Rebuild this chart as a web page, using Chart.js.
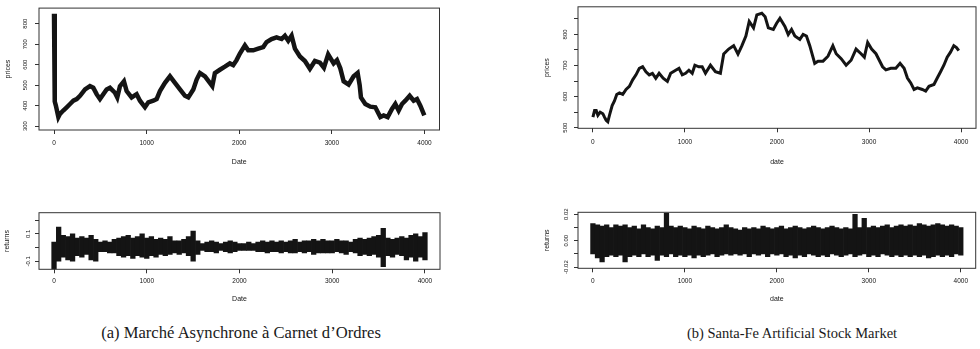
<!DOCTYPE html>
<html><head><meta charset="utf-8">
<script src="https://cdn.jsdelivr.net/npm/chart.js@4.4.0/dist/chart.umd.min.js"></script>
<style>
html,body{margin:0;padding:0;background:#fff;}
body{width:980px;height:349px;position:relative;overflow:hidden;}
canvas{position:absolute;}
.cap{position:absolute;font-family:"Liberation Serif","Times New Roman",serif;color:#1a1a1a;white-space:nowrap;transform:translateX(-50%);line-height:1;}
</style></head><body>
<canvas id="c1" width="445" height="166" style="left:0;top:0"></canvas>
<canvas id="c2" width="445" height="96" style="left:0;top:207px"></canvas>
<canvas id="c3" width="440" height="166" style="left:540px;top:0"></canvas>
<canvas id="c4" width="440" height="96" style="left:540px;top:207px"></canvas>
<div class="cap" style="left:241px;top:325px;font-size:16.6px">(a) Marché Asynchrone à Carnet d’Ordres</div>
<div class="cap" style="left:792px;top:326px;font-size:14.5px">(b) Santa-Fe Artificial Stock Market</div>
<script>
// ---- data ----
const xTicks = [0, 1000, 2000, 3000, 4000];
const xTickLabels = ['0', '1000', '2000', '3000', '4000'];

// (a) price series
const timeA = [0, 8, 20, 47, 65, 100, 137, 173, 209, 245, 281, 335, 388, 424, 460, 496, 532, 568, 604, 658, 683, 712, 755, 784, 838, 892, 928, 982, 1018, 1072, 1108, 1144, 1198, 1252, 1306, 1360, 1414, 1450, 1504, 1540, 1576, 1630, 1683, 1709, 1737, 1791, 1845, 1899, 1935, 1971, 2007, 2061, 2097, 2151, 2205, 2259, 2295, 2349, 2403, 2457, 2493, 2529, 2565, 2601, 2655, 2709, 2763, 2817, 2871, 2914, 2960, 3019, 3055, 3091, 3127, 3181, 3235, 3278, 3300, 3314, 3361, 3415, 3469, 3523, 3559, 3602, 3649, 3685, 3721, 3757, 3793, 3840, 3883, 3919, 3955, 3998];
const priceA = [848, 420, 400, 344, 360, 376, 392, 408, 424, 432, 448, 479, 495, 487, 456, 432, 456, 479, 487, 463, 440, 495, 519, 471, 440, 456, 424, 392, 416, 424, 432, 471, 511, 543, 511, 479, 448, 440, 479, 527, 559, 543, 511, 495, 559, 575, 590, 606, 598, 622, 654, 694, 670, 670, 678, 686, 710, 725, 733, 725, 741, 717, 741, 678, 640, 618, 580, 618, 610, 585, 650, 606, 622, 582, 519, 503, 543, 559, 500, 440, 408, 395, 392, 344, 352, 344, 384, 408, 376, 408, 424, 448, 424, 432, 400, 352];
const yTicksA = [300, 400, 500, 600, 700, 800];
const yLabelsA = ['300', '400', '500', '600', '700', '800'];

// (a) returns envelope (every 50 steps)
const retTimeA = [0,50,100,150,200,250,300,350,400,450,500,550,600,650,700,750,800,850,900,950,1000,1050,1100,1150,1200,1250,1300,1350,1400,1450,1500,1550,1600,1650,1700,1750,1800,1850,1900,1950,2000,2050,2100,2150,2200,2250,2300,2350,2400,2450,2500,2550,2600,2650,2700,2750,2800,2850,2900,2950,3000,3050,3100,3150,3200,3250,3300,3350,3400,3450,3500,3550,3600,3650,3700,3750,3800,3850,3900,3950,4000];
const retHighA = [0.04,0.15,0.09,0.08,0.10,0.07,0.08,0.07,0.09,0.06,0.04,0.05,0.04,0.06,0.07,0.08,0.09,0.07,0.08,0.10,0.07,0.08,0.06,0.07,0.06,0.08,0.05,0.05,0.06,0.08,0.12,0.05,0.03,0.04,0.05,0.04,0.03,0.04,0.05,0.04,0.03,0.03,0.04,0.03,0.04,0.05,0.04,0.05,0.04,0.05,0.04,0.05,0.06,0.04,0.05,0.05,0.06,0.05,0.06,0.05,0.05,0.06,0.05,0.05,0.04,0.06,0.07,0.06,0.07,0.08,0.09,0.14,0.07,0.06,0.07,0.08,0.07,0.09,0.10,0.08,0.11];
const retLowA = [-0.16,-0.10,-0.07,-0.09,-0.10,-0.06,-0.07,-0.05,-0.09,-0.10,-0.03,-0.03,-0.04,-0.04,-0.06,-0.07,-0.06,-0.08,-0.06,-0.07,-0.08,-0.06,-0.07,-0.05,-0.06,-0.05,-0.04,-0.05,-0.04,-0.06,-0.10,-0.05,-0.02,-0.03,-0.03,-0.04,-0.02,-0.03,-0.04,-0.03,-0.02,-0.02,-0.02,-0.02,-0.03,-0.03,-0.04,-0.03,-0.03,-0.04,-0.03,-0.04,-0.04,-0.03,-0.04,-0.03,-0.05,-0.04,-0.04,-0.04,-0.04,-0.03,-0.04,-0.05,-0.03,-0.04,-0.06,-0.05,-0.06,-0.05,-0.07,-0.14,-0.06,-0.07,-0.05,-0.06,-0.09,-0.07,-0.10,-0.07,-0.09];
const yTicksA2 = [-0.1, 0, 0.1, 0.2];
const yLabelsA2 = ['-0.1', '', '0.1', ''];

// (b) price series
const timeB = [0,18,36,54,79,108,126,144,162,180,209,234,259,288,324,360,396,432,468,504,540,576,612,647,683,719,763,809,845,899,935,971,1007,1043,1079,1108,1151,1187,1223,1277,1331,1385,1421,1475,1529,1576,1619,1662,1698,1745,1781,1835,1871,1906,1960,1996,2032,2086,2122,2158,2194,2248,2284,2320,2356,2410,2446,2500,2554,2607,2643,2697,2751,2805,2859,2913,2949,2985,3028,3075,3111,3147,3183,3237,3291,3337,3381,3417,3453,3489,3525,3579,3615,3651,3705,3741,3777,3813,3849,3885,3921,3950,3975];
const priceB = [534,555,555,540,550,545,534,524,519,540,571,586,607,612,607,623,633,654,670,691,696,680,670,675,659,675,659,649,675,685,691,670,675,685,675,701,696,696,675,701,680,675,737,753,764,737,764,795,842,821,863,868,857,821,816,836,852,826,800,816,795,784,800,795,764,707,714,714,730,764,738,722,701,717,753,738,727,774,753,738,717,696,686,691,691,707,691,660,644,623,628,623,618,633,639,660,680,701,727,743,764,758,748];
const yTicksB = [500, 550, 600, 650, 700, 750, 800, 850];
const yLabelsB = ['500', '', '600', '', '700', '', '800', ''];

// (b) returns envelope (every 50 steps)
const retTimeB = retTimeA;
const retHighB = [0.013,0.012,0.011,0.012,0.010,0.012,0.011,0.012,0.010,0.011,0.009,0.012,0.010,0.009,0.011,0.010,0.021,0.011,0.010,0.011,0.010,0.009,0.011,0.010,0.009,0.011,0.010,0.009,0.010,0.012,0.010,0.009,0.008,0.010,0.009,0.010,0.009,0.011,0.010,0.009,0.010,0.011,0.009,0.010,0.011,0.010,0.009,0.010,0.011,0.010,0.009,0.010,0.011,0.010,0.009,0.010,0.009,0.020,0.010,0.017,0.010,0.011,0.010,0.011,0.012,0.010,0.011,0.012,0.011,0.012,0.011,0.013,0.012,0.011,0.012,0.013,0.012,0.011,0.012,0.011,0.010];
const retLowB = [-0.010,-0.013,-0.016,-0.012,-0.011,-0.012,-0.011,-0.016,-0.012,-0.011,-0.012,-0.010,-0.012,-0.011,-0.015,-0.011,-0.012,-0.010,-0.012,-0.011,-0.012,-0.011,-0.013,-0.011,-0.012,-0.011,-0.010,-0.012,-0.011,-0.010,-0.011,-0.010,-0.011,-0.010,-0.012,-0.010,-0.011,-0.010,-0.012,-0.010,-0.011,-0.010,-0.012,-0.011,-0.013,-0.011,-0.012,-0.010,-0.011,-0.012,-0.011,-0.012,-0.010,-0.011,-0.012,-0.011,-0.010,-0.012,-0.011,-0.010,-0.012,-0.011,-0.012,-0.010,-0.011,-0.012,-0.011,-0.012,-0.011,-0.012,-0.011,-0.012,-0.011,-0.013,-0.012,-0.011,-0.012,-0.011,-0.012,-0.010,-0.011];
const yTicksB2 = [-0.02, -0.01, 0, 0.01, 0.02];
const yLabelsB2 = ['-0.02', '', '0.00', '', '0.02'];

// ---- drawing ----
const INK = '#141414';
const boxPlugin = {
  id: 'box',
  afterDraw(chart) {
    const {ctx, chartArea: a} = chart;
    ctx.save();
    ctx.strokeStyle = '#333';
    ctx.lineWidth = 1;
    ctx.strokeRect(a.left, a.top, a.right - a.left, a.bottom - a.top);
    ctx.restore();
  }
};

function makeChart(id, p) {
  const isBar = p.kind === 'bar';
  const data = isBar
    ? p.t.map((t, i) => ({x: t, y: [p.lo[i], p.hi[i]]}))
    : p.t.map((t, i) => ({x: t, y: p.v[i]}));
  const ds = isBar
    ? {data, backgroundColor: INK, borderWidth: 0, barPercentage: 1, categoryPercentage: 1, borderSkipped: false}
    : {data, borderColor: INK, borderWidth: p.lw, pointRadius: 0, tension: 0, fill: false, borderJoinStyle: 'miter'};
  return new Chart(document.getElementById(id), {
    type: isBar ? 'bar' : 'line',
    data: {datasets: [ds]},
    options: {
      responsive: false, animation: false, devicePixelRatio: 1,
      layout: {padding: p.pad},
      plugins: {legend: {display: false}, tooltip: {enabled: false}},
      scales: {
        x: {
          type: 'linear', min: -162, max: 4162, offset: false,
          afterBuildTicks: s => { s.ticks = xTicks.map(v => ({value: v})); },
          afterFit: s => { s.height = p.xH; },
          grid: {drawOnChartArea: false, drawTicks: true, tickLength: 4, tickColor: '#333', offset: false},
          border: {display: false},
          ticks: {autoSkip: false, maxRotation: 0, padding: p.xPad, color: INK,
            font: {family: 'Liberation Sans', size: 6.5},
            callback: (v, i) => xTickLabels[i]},
          title: {display: true, text: p.xTitle, color: INK, padding: 0,
            font: {family: 'Liberation Sans', size: 7}}
        },
        y: {
          type: 'linear', min: p.yMin, max: p.yMax,
          afterBuildTicks: s => { s.ticks = p.yTicks.map(v => ({value: v})); },
          afterFit: s => { s.width = p.yW; },
          grid: {drawOnChartArea: false, drawTicks: true, tickLength: 4, tickColor: '#333'},
          border: {display: false},
          ticks: {autoSkip: false, minRotation: 90, maxRotation: 90, crossAlign: 'center',
            padding: p.yPad, color: INK, font: {family: 'Liberation Sans', size: 6},
            callback: (v, i) => p.yLabels[i]},
          title: {display: true, text: p.yTitle, color: INK, padding: 0,
            font: {family: 'Liberation Sans', size: 7}}
        }
      }
    },
    plugins: [boxPlugin]
  });
}

makeChart('c1', {kind: 'line', t: timeA, v: priceA, lw: 4.5,
  pad: {left: 4, top: 5, right: 5.5, bottom: 0}, yW: 35, xH: 36, xPad: 5, yPad: 4.5,
  yMin: 281, yMax: 876, yTicks: yTicksA, yLabels: yLabelsA, xTitle: 'Date', yTitle: 'prices'});
makeChart('c2', {kind: 'bar', t: retTimeA, lo: retLowA, hi: retHighA,
  pad: {left: 2.5, top: 5.7, right: 5, bottom: 0}, yW: 36.5, xH: 33.7, xPad: 4.5, yPad: 1.5,
  yMin: -0.159, yMax: 0.255, yTicks: yTicksA2, yLabels: yLabelsA2, xTitle: 'Date', yTitle: 'returns'});
makeChart('c3', {kind: 'line', t: timeB, v: priceB, lw: 3,
  pad: {left: 3.3, top: 3.3, right: 4, bottom: 0}, yW: 34.7, xH: 37.7, xPad: 6, yPad: 3.2,
  yMin: 498, yMax: 889, yTicks: yTicksB, yLabels: yLabelsB, xTitle: 'date', yTitle: 'prices'});
makeChart('c4', {kind: 'bar', t: retTimeB, lo: retLowB, hi: retHighB,
  pad: {left: 3.3, top: 5.3, right: 4.3, bottom: 0}, yW: 34.7, xH: 34.7, xPad: 4.8, yPad: 1.2,
  yMin: -0.0209, yMax: 0.0215, yTicks: yTicksB2, yLabels: yLabelsB2, xTitle: 'date', yTitle: 'returns'});
</script>
</body></html>
